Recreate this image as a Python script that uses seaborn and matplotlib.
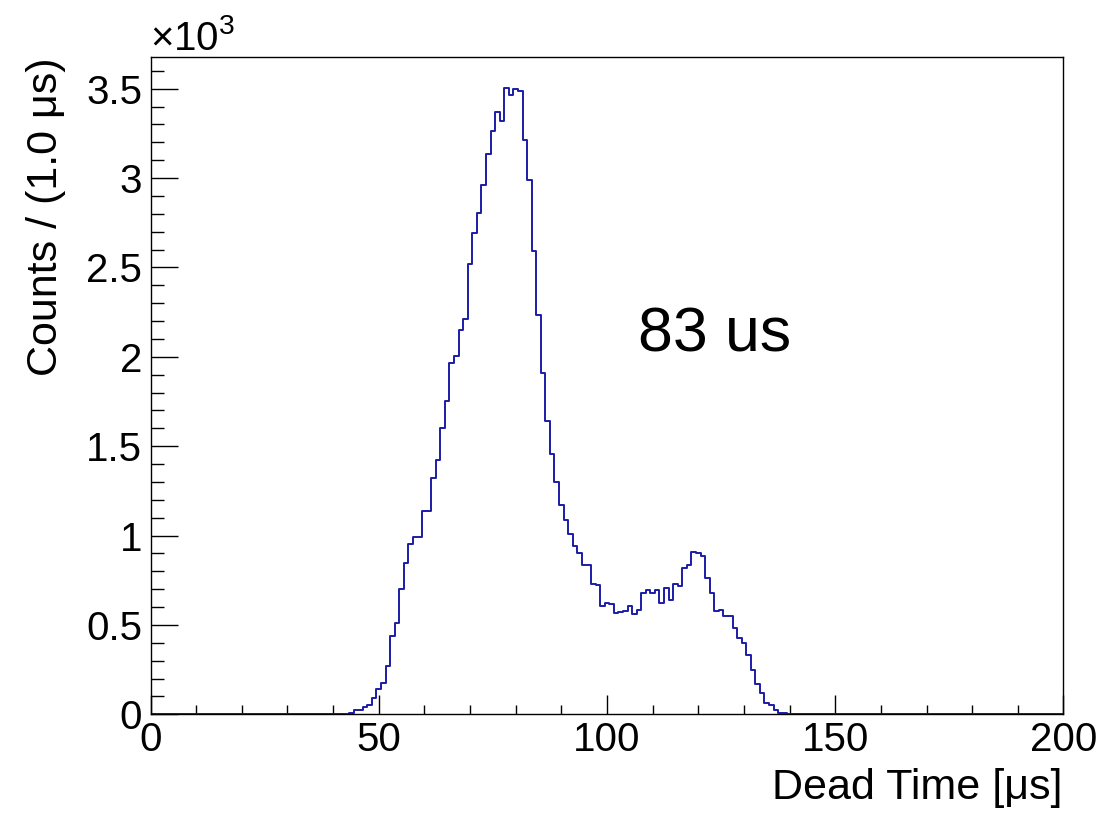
import numpy as np
import pandas as pd
import matplotlib
matplotlib.use("Agg")
import matplotlib.pyplot as plt
from matplotlib.ticker import MultipleLocator, FuncFormatter
import seaborn as sns

# histogram: 1 us bins, first non-empty bin centred at 41 us
first_bin = 41
counts = [
    1, 2, 3, 6, 24, 24, 41, 54, 90, 140,
    177, 269, 437, 513, 700, 849, 953, 994, 994, 1138,
    1138, 1324, 1422, 1601, 1755, 1965, 2005, 2147, 2213, 2517,
    2690, 2802, 2959, 3132, 3265, 3367, 3321, 3502, 3465, 3496,
    3485, 3211, 2991, 2589, 2235, 1909, 1642, 1455, 1298, 1171,
    1088, 1011, 940, 903, 834, 834, 731, 724, 605, 625,
    618, 568, 575, 580, 606, 560, 584, 677, 695, 681,
    696, 624, 708, 638, 731, 719, 819, 837, 910, 901,
    888, 765, 676, 576, 584, 552, 552, 481, 429, 401,
    330, 250, 168, 118, 65, 52, 24, 9, 9, 4,
]
x_range = (0, 200)
bin_width = 1.0
y_ticks = [0, 500, 1000, 1500, 2000, 2500, 3000, 3500]
x_ticks = [0, 50, 100, 150, 200]
annotation = "83 us"

sns.set_theme(style="ticks")
plt.rcParams['font.family'] = ['Liberation Sans', 'DejaVu Sans']
plt.rcParams['text.color'] = 'black'

# full 0..200 range so the zero bins are drawn along the axis like ROOT does
centers = np.arange(x_range[0], x_range[1] + 1)
weights = np.zeros(len(centers))
weights[first_bin:first_bin + len(counts)] = counts
df = pd.DataFrame({"dead_time": centers, "counts": weights})
edges = [float(e) for e in np.arange(x_range[0] - bin_width / 2, x_range[1] + bin_width, bin_width)]

fig = plt.figure(figsize=(11.01, 8.14), dpi=100)
ax = fig.add_axes([0.1367, 0.1225, 0.8292, 0.8075])

sns.histplot(data=df, x="dead_time", weights="counts", bins=edges,
             element="step", fill=False, color="#1c1ca6", linewidth=1.4, ax=ax)

ax.set_xlim(*x_range)
ax.set_ylim(0, max(counts) * 1.05)

ax.set_xticks(x_ticks)
ax.set_yticks(y_ticks)
ax.xaxis.set_minor_locator(MultipleLocator(10))
ax.yaxis.set_minor_locator(MultipleLocator(100))
ax.yaxis.set_major_formatter(FuncFormatter(lambda v, p: f"{v / 1000:g}"))
ax.xaxis.set_major_formatter(FuncFormatter(lambda v, p: f"{v:g}"))

ax.tick_params(axis="both", which="both", direction="in", width=1.0,
               color="black", labelsize=29, labelcolor="black",
               top=False, right=False)
ax.tick_params(axis="y", which="major", length=19.5, pad=6)
ax.tick_params(axis="y", which="minor", length=9.5)
ax.tick_params(axis="x", which="major", length=13.5, pad=5)
ax.tick_params(axis="x", which="minor", length=6.5)

for sp in ax.spines.values():
    sp.set_visible(True)
    sp.set_color("black")
    sp.set_linewidth(1.0)

ax.set_xlabel("")
ax.set_ylabel("")
ax.grid(False)

# axis titles, ROOT style: aligned to the far end of each axis
fig.text(1063 / 1101, 1 - 799 / 814, "Dead Time [\u03bcs]", fontsize=31,
         color="black", ha="right", va="baseline")
fig.text(57 / 1101, 1 - 57 / 814, "Counts / (1.0 \u03bcs)", fontsize=31,
         color="black", rotation=90, rotation_mode="anchor",
         ha="right", va="baseline")

# exponent of the y axis
fig.text(150 / 1101, 1 - 50 / 814, "\u00d7$\\mathregular{10^{3}}$", fontsize=29,
         color="black", ha="left", va="baseline")

fig.text(638 / 1101, 1 - 352 / 814, annotation, fontsize=45,
         color="black", ha="left", va="baseline")

fig.savefig("out.png", dpi=100)
